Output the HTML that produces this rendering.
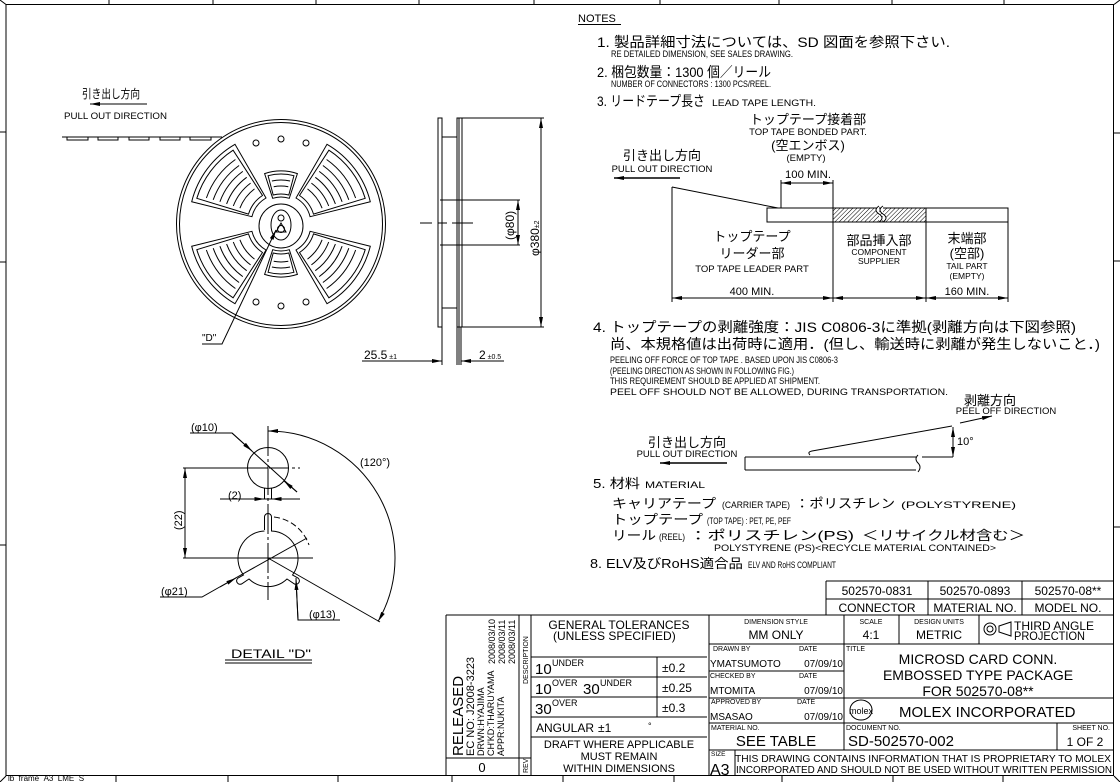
<!DOCTYPE html>
<html><head><meta charset="utf-8">
<style>
html,body{margin:0;padding:0;background:#fff;}
svg{display:block;}
text{font-family:"Liberation Sans","Noto Sans CJK JP",sans-serif;fill:#000;}
.s{font-size:9.5px;}
.m{font-size:11px;}
.j{font-size:14px;}
</style></head>
<body>
<svg width="1120" height="782" viewBox="0 0 1120 782" xmlns="http://www.w3.org/2000/svg">
<defs>
<marker id="a" viewBox="0 0 10 4" refX="10" refY="2" markerWidth="10" markerHeight="4" markerUnits="userSpaceOnUse" orient="auto-start-reverse"><path d="M0,0 L10,2 L0,4z" fill="#000"/></marker>
</defs>
<g fill="none" stroke="#000" stroke-width="1">
<rect x="6" y="4.5" width="1107.5" height="771"/>
<path d="M109,0V4 M213,0V4 M316,0V4 M419,0V4 M534,0V4 M660,0V4 M779,0V4 M892,0V4 M1004,0V4"/>
<path d="M0,132H6 M0,262H6 M0,545H6 M1114,133H1120 M1114,261H1120 M1114,527H1120"/>
<path d="M116,776V782 M228,776V782 M338,776V782 M452,776V782 M563,776V782 M674,776V782 M782,776V782 M893,776V782 M1003,776V782"/>
<path d="M0,0L6,4.5 M1120,0L1114,4.5 M0,782L6,776 M1120,782L1114,776"/>
</g>
<text x="8" y="781" style="font-size:8px">lb_frame_A3_LME_S</text>

<text x="82" y="98" class="m" style="font-size:12px" textLength="58" lengthAdjust="spacingAndGlyphs">引き出し方向</text>
<line x1="147" y1="104" x2="90" y2="104" stroke="#000" marker-end="url(#a)"/>
<text x="64" y="119" class="s" textLength="103" lengthAdjust="spacingAndGlyphs">PULL OUT DIRECTION</text>
<g fill="none" stroke="#000" stroke-width="1">
<path d="M62,137H222"/>
<path d="M67,137V140H88V137 M98,137V140H118V137 M129,137V140H149V137 M160,137V140H180V137 M190,137V140H211V137"/>
</g>

<g id="reel" fill="none" stroke="#000" stroke-width="1"></g>
<text x="202" y="341" class="s" style="font-size:10px">"D"</text>
<path d="M202,344H222L276,230" fill="none" stroke="#000" marker-end="url(#a)"/>

<g fill="none" stroke="#000" stroke-width="1">
<rect x="438" y="118" width="4" height="209"/>
<rect x="457" y="118" width="5" height="209"/>
<path d="M459,118V327"/>
<path d="M442,137H457 M442,308H457"/>
<path d="M462,118H544 M462,327H544"/>
<path d="M440,200H520 M440,245H520"/>
<path d="M420,223H432 M438,223H447 M452,223H473" />
<path d="M442,327V365 M457,327V365 M459,327V365 M461,327V365"/>
<path d="M362,361H390 M504,361H478"/>
</g>
<line x1="541" y1="140" x2="541" y2="118" stroke="#000" marker-end="url(#a)"/>
<line x1="541" y1="140" x2="541" y2="327" stroke="#000" marker-end="url(#a)"/>
<line x1="518" y1="222" x2="518" y2="200" stroke="#000" marker-end="url(#a)"/>
<line x1="518" y1="222" x2="518" y2="245" stroke="#000" marker-end="url(#a)"/>
<line x1="390" y1="361" x2="442" y2="361" stroke="#000" marker-end="url(#a)"/>
<line x1="478" y1="361" x2="461" y2="361" stroke="#000" marker-end="url(#a)"/>
<text transform="translate(514,240) rotate(-90)" class="m" style="font-size:12px">(φ80)</text>
<text transform="translate(539,256) rotate(-90)" class="m" style="font-size:12px">φ380<tspan style="font-size:7px">±2</tspan></text>
<text x="364" y="359" class="m" style="font-size:12px">25.5<tspan style="font-size:7px"> ±1</tspan></text>
<text x="479" y="359" class="m" style="font-size:12px">2<tspan style="font-size:7px"> ±0.5</tspan></text>

<g fill="none" stroke="#000" stroke-width="1">
<path d="M268,426V600" stroke-dasharray="30,3,3,3"/>
<path d="M240,468H300" stroke-dasharray="20,3,3,3"/>
<circle cx="268" cy="468" r="20.5"/>
<path d="M183,468H268 M183,558H313" />
<path d="M220,499H300"/>
<path d="M264.5,488V499 M271.5,488V499"/>
<path d="M264.5,530 V517 A3.5,3.5 0 0 1 271.5,517 V531 A27.5,27.5 0 0 1 292.5,575 L298,578 A3.5,3.5 0 0 1 294.5,584 L287,579 A27.5,27.5 0 0 1 249,579 L241.5,584 A3.5,3.5 0 0 1 238,578 L243.5,575 A27.5,27.5 0 0 1 264.5,531"/>
<path d="M232,580L307,538"/>
<path d="M274,517 A42,42 0 0 1 309,545" stroke-dasharray="6,3"/>
<path d="M268,558L380,622"/>
<path d="M190,433H232L297,492"/>
<path d="M160,597H202L232,580"/>
<path d="M340,620H298L296,578"/>
<path d="M225,660H312 M225,663H312"/>
</g>
<path d="M268,431 A127,127 0 0 1 378,621.5" fill="none" stroke="#000" marker-start="url(#a)" marker-end="url(#a)"/>
<line x1="185" y1="513" x2="185" y2="468" stroke="#000" marker-end="url(#a)"/>
<line x1="185" y1="513" x2="185" y2="558" stroke="#000" marker-end="url(#a)"/>
<line x1="250" y1="499" x2="264.5" y2="499" stroke="#000" marker-end="url(#a)"/>
<line x1="286" y1="499" x2="271.5" y2="499" stroke="#000" marker-end="url(#a)"/>
<line x1="232" y1="433" x2="252" y2="451" stroke="#000" marker-end="url(#a)"/>
<line x1="297" y1="492" x2="284" y2="481" stroke="#000" marker-end="url(#a)"/>
<line x1="298" y1="620" x2="296" y2="580" stroke="#000" marker-end="url(#a)"/>
<line x1="220" y1="587" x2="236" y2="578" stroke="#000" marker-end="url(#a)"/>
<text x="191" y="431" class="m">(φ10)</text>
<text x="360" y="466" class="m">(120°)</text>
<text x="228" y="499" class="m">(2)</text>
<text transform="translate(182,530) rotate(-90)" class="m">(22)</text>
<text x="161" y="595" class="m">(φ21)</text>
<text x="309" y="618" class="m">(φ13)</text>
<text x="231" y="658" class="m" style="font-size:12px" textLength="80" lengthAdjust="spacingAndGlyphs">DETAIL "D"</text>

<text x="578" y="22" class="m" style="font-size:11px">NOTES</text>
<line x1="578" y1="24.5" x2="621" y2="24.5" stroke="#000"/>
<text x="597" y="47" class="j" textLength="353" lengthAdjust="spacingAndGlyphs">1. 製品詳細寸法については、SD 図面を参照下さい.</text>
<text x="611" y="57" class="s" textLength="182" lengthAdjust="spacingAndGlyphs">RE DETAILED DIMENSION, SEE SALES DRAWING.</text>
<text x="597" y="77" class="j" textLength="174" lengthAdjust="spacingAndGlyphs">2. 梱包数量：1300 個／リール</text>
<text x="611" y="87" class="s" textLength="160" lengthAdjust="spacingAndGlyphs">NUMBER OF CONNECTORS : 1300 PCS/REEL.</text>
<text x="597" y="106" class="j" textLength="108" lengthAdjust="spacingAndGlyphs">3. リードテープ長さ</text>
<text x="712" y="106" class="s" textLength="104" lengthAdjust="spacingAndGlyphs">LEAD TAPE LENGTH.</text>

<text x="808" y="124" class="m" style="font-size:13px" text-anchor="middle">トップテープ接着部</text>
<text x="808" y="135" class="s" text-anchor="middle">TOP TAPE BONDED PART.</text>
<text x="808" y="150" class="m" style="font-size:13px" text-anchor="middle">(空エンボス)</text>
<text x="806" y="161" class="s" text-anchor="middle">(EMPTY)</text>
<text x="808" y="178" class="m" text-anchor="middle" textLength="46" lengthAdjust="spacingAndGlyphs">100 MIN.</text>
<text x="662" y="160" class="m" style="font-size:13px" text-anchor="middle">引き出し方向</text>
<text x="662" y="172" class="s" text-anchor="middle">PULL OUT DIRECTION</text>
<line x1="680" y1="178" x2="614" y2="178" stroke="#000" stroke-width="1.4" marker-end="url(#a)"/>
<defs><pattern id="h" width="3" height="3" patternUnits="userSpaceOnUse" patternTransform="rotate(45)"><line x1="0" y1="0" x2="0" y2="3" stroke="#000" stroke-width="1"/></pattern></defs>
<rect x="833" y="208" width="93" height="14" fill="url(#h)"/>
<g fill="none" stroke="#000" stroke-width="1">
<rect x="767" y="208" width="241" height="14"/>
<path d="M672,187L778,208"/>
<path d="M672,187V302 M833,208V302 M926,208V302 M1008,222V302"/>
<path d="M781,180V208 M833,180V208"/>
<path d="M879,206 q-6,4 0,8 q6,4 0,8 M883,206 q-6,4 0,8 q6,4 0,8" fill="#fff"/>
</g>
<line x1="807" y1="183" x2="781" y2="183" stroke="#000" marker-end="url(#a)"/>
<line x1="807" y1="183" x2="833" y2="183" stroke="#000" marker-end="url(#a)"/>
<line x1="752" y1="298" x2="672" y2="298" stroke="#000" marker-end="url(#a)"/>
<line x1="752" y1="298" x2="833" y2="298" stroke="#000" marker-end="url(#a)"/>
<line x1="880" y1="298" x2="833" y2="298" stroke="#000" marker-end="url(#a)"/>
<line x1="880" y1="298" x2="926" y2="298" stroke="#000" marker-end="url(#a)"/>
<line x1="967" y1="298" x2="926" y2="298" stroke="#000" marker-end="url(#a)"/>
<line x1="967" y1="298" x2="1008" y2="298" stroke="#000" marker-end="url(#a)"/>
<text x="752" y="241" class="m" style="font-size:13px" text-anchor="middle">トップテープ</text>
<text x="752" y="258" class="m" style="font-size:13px" text-anchor="middle">リーダー部</text>
<text x="752" y="272" class="s" text-anchor="middle">TOP TAPE LEADER PART</text>
<text x="752" y="295" class="m" text-anchor="middle">400 MIN.</text>
<text x="879" y="245" class="m" style="font-size:13px" text-anchor="middle">部品挿入部</text>
<text x="879" y="255" class="s" text-anchor="middle" style="font-size:8.5px">COMPONENT</text>
<text x="879" y="264" class="s" text-anchor="middle" style="font-size:8.5px">SUPPLIER</text>
<text x="967" y="243" class="m" style="font-size:13px" text-anchor="middle">末端部</text>
<text x="967" y="258" class="m" style="font-size:13px" text-anchor="middle">(空部)</text>
<text x="967" y="269" class="s" text-anchor="middle" style="font-size:8.5px">TAIL PART</text>
<text x="967" y="279" class="s" text-anchor="middle" style="font-size:8.5px">(EMPTY)</text>
<text x="967" y="295" class="m" text-anchor="middle">160 MIN.</text>

<text x="593" y="332" class="j" textLength="483" lengthAdjust="spacingAndGlyphs">4. トップテープの剥離強度：JIS C0806-3に準拠(剥離方向は下図参照)</text>
<text x="610" y="349" class="j" textLength="490" lengthAdjust="spacingAndGlyphs">尚、本規格値は出荷時に適用．(但し、輸送時に剥離が発生しないこと．)</text>
<text x="610" y="363" class="s" textLength="228" lengthAdjust="spacingAndGlyphs">PEELING OFF FORCE OF TOP TAPE . BASED UPON JIS C0806-3</text>
<text x="610" y="374" class="s" textLength="184" lengthAdjust="spacingAndGlyphs">(PEELING DIRECTION AS SHOWN IN FOLLOWING FIG.)</text>
<text x="610" y="384" class="s" textLength="210" lengthAdjust="spacingAndGlyphs">THIS REQUIREMENT SHOULD BE APPLIED AT SHIPMENT.</text>
<text x="610" y="395" class="s" textLength="338" lengthAdjust="spacingAndGlyphs">PEEL OFF SHOULD NOT BE ALLOWED, DURING TRANSPORTATION.</text>
<text x="990" y="405" class="m" style="font-size:13px" text-anchor="middle">剥離方向</text>
<text x="1006" y="414" class="s" text-anchor="middle">PEEL OFF DIRECTION</text>
<text x="687" y="447" class="m" style="font-size:13px" text-anchor="middle">引き出し方向</text>
<text x="687" y="457" class="s" text-anchor="middle">PULL OUT DIRECTION</text>
<line x1="727" y1="463" x2="660" y2="463" stroke="#000" stroke-width="1.4" marker-end="url(#a)"/>
<g fill="none" stroke="#000" stroke-width="1">
<path d="M745,457H916 M745,470H916 M745,457V470"/>
<path d="M918,455 q-4,4 0,8 q4,4 0,9"/>
<path d="M922,457H953"/>
<path d="M810,455 q-3,-3 2,-4 L952,426"/>
</g>
<line x1="960" y1="423" x2="992" y2="416" stroke="#000" marker-end="url(#a)"/>
<line x1="953" y1="441" x2="953" y2="427" stroke="#000" marker-end="url(#a)"/>
<line x1="953" y1="441" x2="953" y2="457" stroke="#000" marker-end="url(#a)"/>
<text x="957" y="445" class="m">10°</text>

<text x="593" y="488" class="j" style="font-size:13px" textLength="47" lengthAdjust="spacingAndGlyphs">5. 材料</text>
<text x="645" y="488" class="s" textLength="60" lengthAdjust="spacingAndGlyphs">MATERIAL</text>
<text x="612" y="508" class="j" style="font-size:13px" textLength="104" lengthAdjust="spacingAndGlyphs">キャリアテープ</text>
<text x="722" y="508" class="s" textLength="68" lengthAdjust="spacingAndGlyphs">(CARRIER TAPE)</text>
<text x="795" y="508" class="j" style="font-size:13px" textLength="100" lengthAdjust="spacingAndGlyphs">：ポリスチレン</text>
<text x="901" y="508" class="s" textLength="115" lengthAdjust="spacingAndGlyphs">(POLYSTYRENE)</text>
<text x="612" y="524" class="j" style="font-size:13px" textLength="91" lengthAdjust="spacingAndGlyphs">トップテープ</text>
<text x="707" y="524" class="s" textLength="84" lengthAdjust="spacingAndGlyphs">(TOP TAPE) : PET, PE, PEF</text>
<text x="612" y="540" class="j" style="font-size:13px" textLength="44" lengthAdjust="spacingAndGlyphs">リール</text>
<text x="659" y="540" class="s" textLength="26" lengthAdjust="spacingAndGlyphs">(REEL)</text>
<text x="689" y="540" class="j" style="font-size:13px" textLength="165" lengthAdjust="spacingAndGlyphs">：ポリスチレン(PS)</text>
<text x="862" y="540" class="j" style="font-size:13px" textLength="163" lengthAdjust="spacingAndGlyphs">＜リサイクル材含む＞</text>
<text x="714" y="551" class="s" textLength="282" lengthAdjust="spacingAndGlyphs">POLYSTYRENE (PS)&lt;RECYCLE MATERIAL CONTAINED&gt;</text>
<text x="590" y="568" class="j" style="font-size:13px" textLength="153" lengthAdjust="spacingAndGlyphs">8. ELV及びRoHS適合品</text>
<text x="748" y="568" class="s" textLength="88" lengthAdjust="spacingAndGlyphs">ELV AND RoHS COMPLIANT</text>

<g fill="none" stroke="#000" stroke-width="1">
<path d="M826,581H1114 M826,599H1114 M826,581V615 M928,581V615 M1022,581V615"/>
<path d="M446,615H1114 M446,615V776"/>
<path d="M519,615V776 M531,615V776 M446,758H531"/>
<path d="M531,657H707 M531,677H707 M531,697H707 M531,717H707 M531,737H707 M657,657V717"/>
<path d="M709,615V776"/>
<path d="M709,644H1114 M709,671H844 M709,698H1114 M709,723H1114 M709,750H1114"/>
<path d="M844,615V750 M899,615V644 M979,615V644 M1057,723V750 M735,750V776"/>
<circle cx="990" cy="629" r="6"/><circle cx="990" cy="629" r="3"/>
<path d="M999,632L1011,636V622L999,626Z"/>
<ellipse cx="861" cy="710" rx="11" ry="10"/>
</g>
<g>
<text x="877" y="595" text-anchor="middle" style="font-size:12px">502570-0831</text>
<text x="975" y="595" text-anchor="middle" style="font-size:12px">502570-0893</text>
<text x="1068" y="595" text-anchor="middle" style="font-size:12px">502570-08**</text>
<text x="877" y="612" text-anchor="middle" style="font-size:12px">CONNECTOR</text>
<text x="975" y="612" text-anchor="middle" style="font-size:12px">MATERIAL NO.</text>
<text x="1068" y="612" text-anchor="middle" style="font-size:12px">MODEL NO.</text>
</g>
<g style="font-size:13px">
<text transform="translate(463,756) rotate(-90)" style="font-size:15px">RELEASED</text>
<text transform="translate(474,756) rotate(-90)" style="font-size:11px">EC NO: J2008-3223</text>
<text transform="translate(484,756) rotate(-90)" style="font-size:9px">DRWN:HYAJIMA</text>
<text transform="translate(494,756) rotate(-90)" style="font-size:9px">CH'KD:THARUYAMA</text>
<text transform="translate(504,756) rotate(-90)" style="font-size:9px">APPR:NUKITA</text>
<text transform="translate(495,664) rotate(-90)" style="font-size:9px">2008/03/10</text>
<text transform="translate(505,664) rotate(-90)" style="font-size:9px">2008/03/11</text>
<text transform="translate(515,664) rotate(-90)" style="font-size:9px">2008/03/11</text>
<text transform="translate(528,684) rotate(-90)" style="font-size:7px">DESCRIPTION</text>
<text transform="translate(528,773) rotate(-90)" style="font-size:7px">REV</text>
<text x="482" y="772" text-anchor="middle">0</text>
<text x="619" y="629" text-anchor="middle" style="font-size:12px">GENERAL  TOLERANCES</text>
<text x="553" y="640" style="font-size:12px">(UNLESS SPECIFIED)</text>
<text x="535" y="674" style="font-size:15px">10</text><text x="552" y="666" style="font-size:9px">UNDER</text>
<text x="535" y="694" style="font-size:15px">10</text><text x="552" y="686" style="font-size:9px">OVER</text>
<text x="583" y="694" style="font-size:15px">30</text><text x="600" y="686" style="font-size:9px">UNDER</text>
<text x="535" y="714" style="font-size:15px">30</text><text x="552" y="706" style="font-size:9px">OVER</text>
<text x="662" y="672" style="font-size:12px">±0.2</text>
<text x="662" y="692" style="font-size:12px">±0.25</text>
<text x="662" y="712" style="font-size:12px">±0.3</text>
<text x="536" y="732" style="font-size:12px">ANGULAR</text><text x="598" y="732" style="font-size:12px">±1</text><text x="648" y="729" style="font-size:9px">°</text>
<text x="619" y="748" text-anchor="middle" style="font-size:11px">DRAFT WHERE APPLICABLE</text>
<text x="619" y="760" text-anchor="middle" style="font-size:11px">MUST REMAIN</text>
<text x="619" y="772" text-anchor="middle" style="font-size:11px">WITHIN DIMENSIONS</text>
<text x="776" y="624" text-anchor="middle" style="font-size:7px">DIMENSION STYLE</text>
<text x="776" y="639" text-anchor="middle" style="font-size:12px">MM ONLY</text>
<text x="871" y="624" text-anchor="middle" style="font-size:7px">SCALE</text>
<text x="871" y="639" text-anchor="middle" style="font-size:12px">4:1</text>
<text x="939" y="624" text-anchor="middle" style="font-size:7px">DESIGN UNITS</text>
<text x="939" y="639" text-anchor="middle" style="font-size:12px">METRIC</text>
<text x="1014" y="630" style="font-size:12px">THIRD ANGLE</text>
<text x="1014" y="640" style="font-size:12px" textLength="71" lengthAdjust="spacingAndGlyphs">PROJECTION</text>
<text x="713" y="651" style="font-size:7px">DRAWN BY</text><text x="799" y="651" style="font-size:7px">DATE</text>
<text x="710" y="667" style="font-size:10px">YMATSUMOTO</text><text x="843" y="667" text-anchor="end" style="font-size:10px">07/09/10</text>
<text x="710" y="678" style="font-size:7px">CHECKED BY</text><text x="799" y="678" style="font-size:7px">DATE</text>
<text x="710" y="694" style="font-size:10px">MTOMITA</text><text x="843" y="694" text-anchor="end" style="font-size:10px">07/09/10</text>
<text x="711" y="704" style="font-size:7px">APPROVED BY</text><text x="797" y="704" style="font-size:7px">DATE</text>
<text x="710" y="720" style="font-size:10px">MSASAO</text><text x="843" y="720" text-anchor="end" style="font-size:10px">07/09/10</text>
<text x="711" y="730" style="font-size:7px">MATERIAL NO.</text>
<text x="776" y="746" text-anchor="middle" style="font-size:15px">SEE TABLE</text>
<text x="846" y="651" style="font-size:7px">TITLE</text>
<text x="978" y="664" text-anchor="middle" style="font-size:14px">MICROSD CARD CONN.</text>
<text x="978" y="680" text-anchor="middle" style="font-size:14px">EMBOSSED TYPE PACKAGE</text>
<text x="978" y="696" text-anchor="middle" style="font-size:14px">FOR 502570-08**</text>
<text x="861" y="714" text-anchor="middle" style="font-size:9px">molex</text>
<text x="899" y="717" style="font-size:15px">MOLEX INCORPORATED</text>
<text x="846" y="730" style="font-size:7px">DOCUMENT NO.</text>
<text x="848" y="746" style="font-size:15px">SD-502570-002</text>
<text x="1110" y="730" text-anchor="end" style="font-size:7px">SHEET NO.</text>
<text x="1085" y="746" text-anchor="middle" style="font-size:12px">1 OF 2</text>
<text x="711" y="756" style="font-size:6.5px">SIZE</text>
<text x="710" y="775" style="font-size:16px">A3</text>
<text x="923" y="762" text-anchor="middle" style="font-size:10.5px" textLength="376" lengthAdjust="spacingAndGlyphs">THIS DRAWING CONTAINS INFORMATION THAT IS PROPRIETARY TO MOLEX</text>
<text x="924" y="773" text-anchor="middle" style="font-size:10.5px" textLength="376" lengthAdjust="spacingAndGlyphs">INCORPORATED AND SHOULD NOT BE USED WITHOUT WRITTEN PERMISSION</text>
</g>

<script>
(function(){
var g=document.getElementById('reel');var cx=281,cy=224;var ns='http://www.w3.org/2000/svg';
function el(d){var p=document.createElementNS(ns,'path');p.setAttribute('d',d);g.appendChild(p);}
function circ(x,y,r){var c=document.createElementNS(ns,'circle');c.setAttribute('cx',x);c.setAttribute('cy',y);c.setAttribute('r',r);g.appendChild(c);}
function pt(r,a){a=a*Math.PI/180;return (cx+r*Math.cos(a)).toFixed(1)+','+(cy+r*Math.sin(a)).toFixed(1);}
function sector(r1,r2,a1,a2){var lg=(a2-a1)>180?1:0;
 return 'M'+pt(r1,a1)+' L'+pt(r2,a1)+' A'+r2+','+r2+' 0 '+lg+' 1 '+pt(r2,a2)+' L'+pt(r1,a2)+' A'+r1+','+r1+' 0 '+lg+' 0 '+pt(r1,a1)+'Z';}
function arc(r,a1,a2){return 'M'+pt(r,a1)+' A'+r+','+r+' 0 0 1 '+pt(r,a2);}
circ(cx,cy,104.5);circ(cx,cy,101.5);circ(cx,cy+2,22);
circ(256,143,3);circ(281,139,3);circ(306,143,3);circ(256,302,3);circ(281,306,3);circ(306,302,3);
[217,143,323,37].forEach(function(c){
 el(sector(30,92,c-23,c+23));el(sector(34,88,c-20,c+20));
 for(var r=44;r<=84;r+=7){el(arc(r,c-18+(84-r)*0.05,c+18-(84-r)*0.05));}
});
[270,90].forEach(function(c){el(sector(27,53,c-18,c+18));el(sector(30,50,c-15,c+15));el(arc(38,c-11,c+11));el(arc(44,c-12,c+12));});
var e=document.createElementNS(ns,'ellipse');e.setAttribute('cx',cx);e.setAttribute('cy',cy+1);e.setAttribute('rx',10);e.setAttribute('ry',15);g.appendChild(e);
circ(cx,cy-6,3);el('M'+(cx)+','+(cy-1)+' L'+(cx+5)+','+(cy+8)+' L'+(cx-5)+','+(cy+8)+'Z');circ(cx,cy+5,3.5);
})();
</script>
</svg>
</body></html>
